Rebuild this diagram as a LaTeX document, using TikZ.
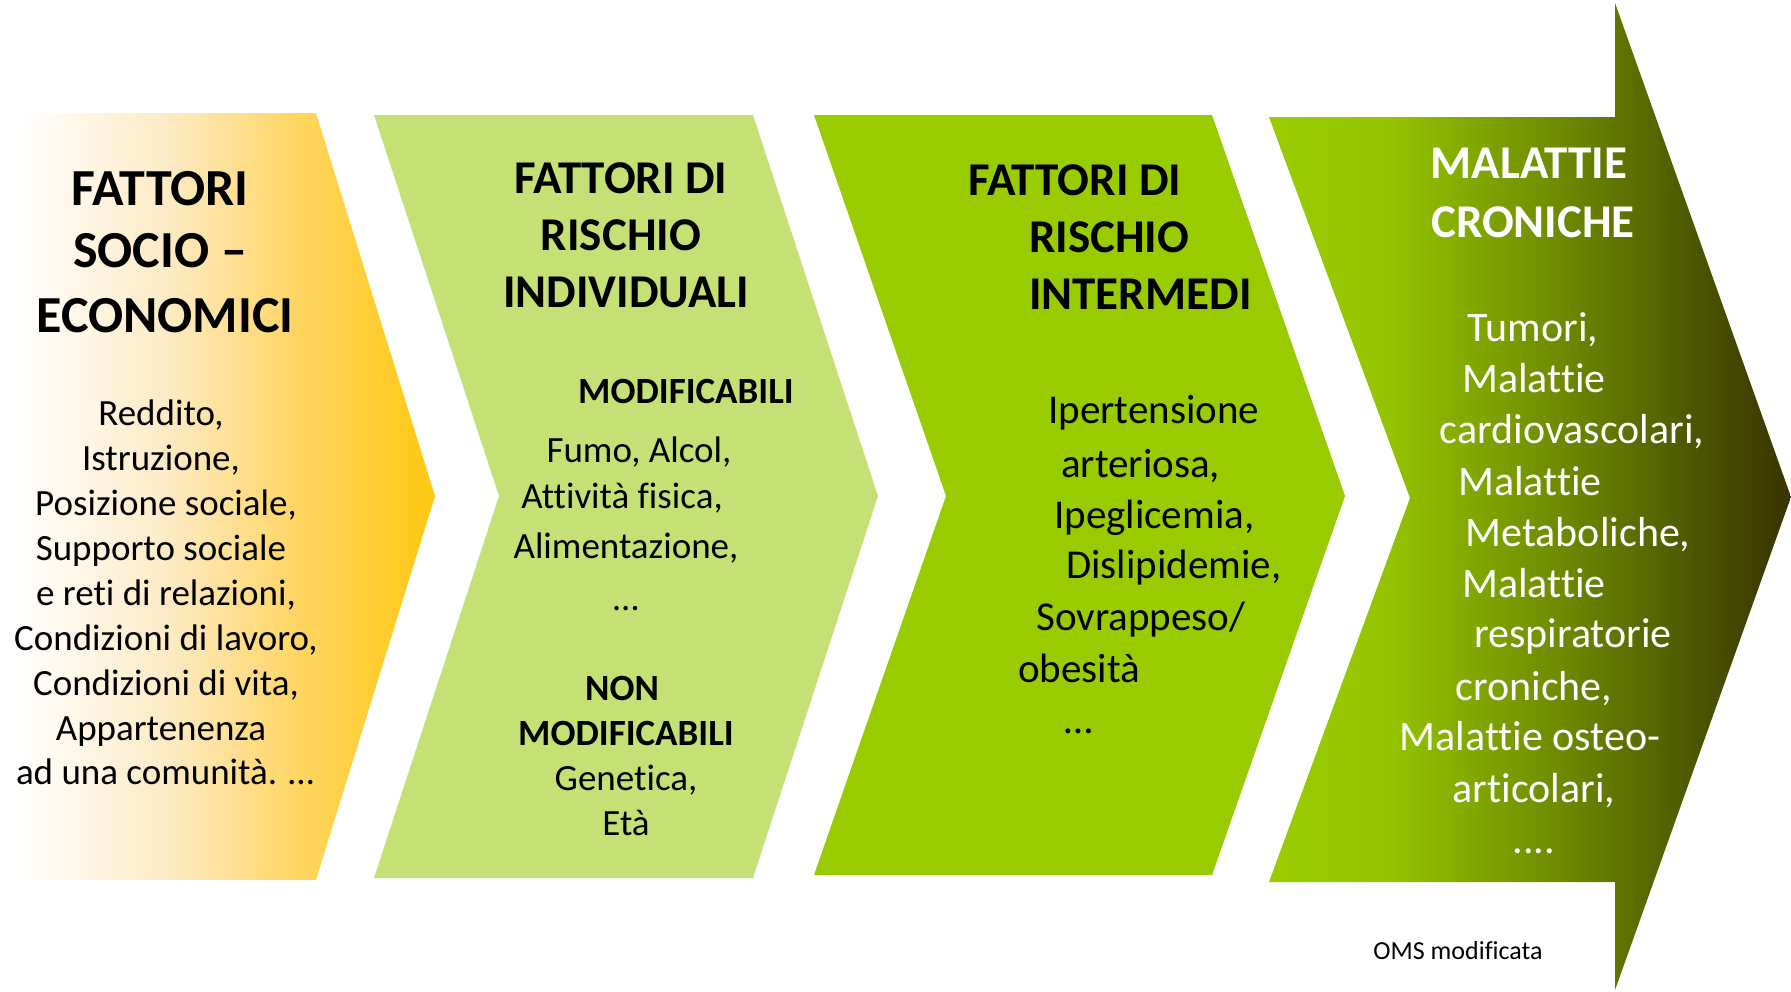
\documentclass[tikz,border=0pt]{standalone}
\usepackage{fontspec}
\setmainfont{Carlito}[Ligatures=CommonOff]
\definecolor{o1}{HTML}{FEEBC6}
\definecolor{o2}{HTML}{FFD560}
\definecolor{o3}{HTML}{FFC810}
\definecolor{g1}{HTML}{99CC00}
\definecolor{g2}{HTML}{94C400}
\definecolor{g3}{HTML}{6E8A00}
\definecolor{g4}{HTML}{4A5400}
\definecolor{g5}{HTML}{3A3200}
\definecolor{lightg}{HTML}{C5E175}
\pgfdeclarehorizontalshading{orangeshade}{100bp}{color(0bp)=(white); color(27bp)=(white); color(44bp)=(o1); color(59.5bp)=(o2); color(75bp)=(o3); color(100bp)=(o3)}
\pgfdeclarehorizontalshading{greenshade}{100bp}{color(0bp)=(g1); color(25bp)=(g1); color(36.4bp)=(g2); color(52.9bp)=(g3); color(66.3bp)=(g4); color(75bp)=(g5); color(100bp)=(g5)}
\tikzset{
  ttl/.style={anchor=base, inner sep=0, font=\fontsize{52}{63}\selectfont\bfseries},
  ttlb/.style={anchor=base, inner sep=0, font=\fontsize{47}{57}\selectfont\bfseries},
  bod/.style={anchor=base, inner sep=0, font=\fontsize{37}{45}\selectfont},
  bodb/.style={anchor=base, inner sep=0, font=\fontsize{37}{45}\selectfont\bfseries},
  bodc/.style={anchor=base, inner sep=0, font=\fontsize{41}{50}\selectfont},
  bodw/.style={anchor=base, inner sep=0, text=white, font=\fontsize{42}{51}\selectfont},
  ttlw/.style={ttlb, text=white},
}
\begin{document}
\begin{tikzpicture}[x=1pt,y=-1pt]
\useasboundingbox (0,0) rectangle (1791,991);
% shapes
\shade[shading=orangeshade] (0,113) -- (316,113) -- (435,496) -- (316,880) -- (0,880) -- cycle;
\fill[lightg] (374,115) -- (753,115) -- (878,496) -- (753,878) -- (374,878) -- (499,496) -- cycle;
\fill[g1] (814,115) -- (1212,115) -- (1345,496) -- (1212,875) -- (814,875) -- (946,496) -- cycle;
\shade[shading=greenshade] (1269,117) -- (1615,117) -- (1615,3) -- (1791,497) -- (1615,990) -- (1615,882) -- (1269,882) -- (1410,498) -- cycle;
% shape 1 text
\node[ttl] (a1) at (160,205) {FATTORI};
\node[ttl] (a2) at (160,267) {SOCIO –};
\node[ttl] (a3) at (165,332) {ECONOMICI};
\node[bod] (a4) at (161,425) {Reddito,};
\node[bod] (a5) at (161,470) {Istruzione,};
\node[bod] (a6) at (166,515) {Posizione sociale,};
\node[bod] (a7) at (161,560) {Supporto sociale};
\node[bod] (a8) at (166,605) {e reti di relazioni,};
\node[bod] (a9) at (166,650) {Condizioni di lavoro,};
\node[bod] (a10) at (166,695) {Condizioni di vita,};
\node[bod] (a11) at (161,740) {Appartenenza};
\node[bod] (a12) at (165,784) {ad una comunità. …};
% shape 2 text
\node[ttlb] (b1) at (621,193) {FATTORI DI};
\node[ttlb] (b2) at (621,250) {RISCHIO};
\node[ttlb] (b3) at (626,307) {INDIVIDUALI};
\node[bodb] (b4) at (686,403) {MODIFICABILI};
\node[bod] (b5) at (639,462) {Fumo, Alcol,};
\node[bod] (b6) at (622,508) {Attività fisica,};
\node[bod] (b7) at (626,558) {Alimentazione,};
\node[bod] (b8) at (626,610) {…};
\node[bodb] (b9) at (622,700) {NON};
\node[bodb] (b10) at (626,745) {MODIFICABILI};
\node[bod] (b11) at (626,790) {Genetica,};
\node[bod] (b12) at (626,835) {Età};
% shape 3 text
\node[ttlb, anchor=base west] (c1) at (968,195) {FATTORI DI};
\node[ttlb, anchor=base west] (c2) at (1029,252) {RISCHIO};
\node[ttlb, anchor=base west] (c3) at (1029,309) {INTERMEDI};
\node[bodc, anchor=base west] (c4) at (1048,423) {Ipertensione};
\node[bodc, anchor=base west] (c5) at (1061,477) {arteriosa,};
\node[bodc, anchor=base west] (c6) at (1054,528) {Ipeglicemia,};
\node[bodc, anchor=base west] (c7) at (1066,578) {Dislipidemie,};
\node[bodc, anchor=base west] (c8) at (1036,630) {Sovrappeso/};
\node[bodc, anchor=base west] (c9) at (1018,682) {obesità};
\node[bodc] (c10) at (1079,733) {…};
% shape 4 text
\node[ttlw] (d1) at (1529,178) {MALATTIE};
\node[ttlw] (d2) at (1533,237) {CRONICHE};
\node[bodw] (d3) at (1533,341) {Tumori,};
\node[bodw] (d4) at (1534,392) {Malattie};
\node[bodw] (d5) at (1572,443) {cardiovascolari,};
\node[bodw] (d6) at (1530,495) {Malattie};
\node[bodw] (d7) at (1578,546) {Metaboliche,};
\node[bodw] (d8) at (1534,597) {Malattie};
\node[bodw] (d9) at (1573,647) {respiratorie};
\node[bodw] (d10) at (1534,700) {croniche,};
\node[bodw] (d11) at (1530,750) {Malattie osteo-};
\node[bodw] (d12) at (1534,802) {articolari,};
\node[bodw] (d13) at (1534,853) {....};
\node[anchor=base, inner sep=0, font=\fontsize{26}{31}\selectfont] (e1) at (1458,959) {OMS modificata};
\end{tikzpicture}
\end{document}
